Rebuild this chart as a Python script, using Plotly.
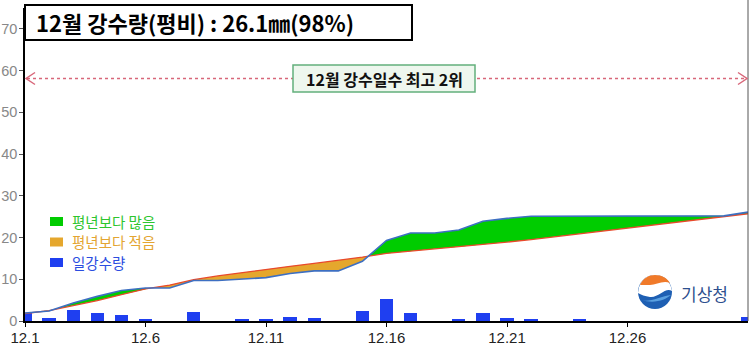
import numpy as np
import plotly.graph_objects as go

# ---------------- data ----------------
days = list(range(1, 32))
tick_days = [1, 6, 11, 16, 21, 26]
tick_labels = ["12.1", "12.6", "12.11", "12.16", "12.21", "12.26"]

# daily precipitation (mm)
daily_precip = [1.9, 0.8, 2.6, 1.8, 1.4, 0.5, 0.0, 2.2, 0.0, 0.6,
                0.3, 1.0, 0.7, 0.0, 2.3, 5.2, 2.0, 0.0, 0.6, 2.0,
                0.8, 0.6, 0.0, 0.4, 0.0, 0.0, 0.0, 0.0, 0.0, 0.0, 1.0]

# accumulated precipitation this year (mm)
observed_cum = [1.9, 2.4, 4.3, 5.9, 7.3, 7.9, 7.9, 9.7, 9.7, 10.1,
                10.4, 11.4, 12.0, 12.0, 14.3, 19.3, 21.1, 21.1, 21.8, 23.9,
                24.6, 25.1, 25.1, 25.2, 25.2, 25.2, 25.2, 25.2, 25.2, 25.2, 26.1]

# accumulated normal precipitation (mm)
normal_cum = [1.8, 2.5, 3.7, 4.9, 6.3, 7.7, 8.6, 9.9, 10.8, 11.6,
              12.4, 13.1, 13.8, 14.5, 15.3, 16.2, 16.8, 17.3, 17.8, 18.3,
              18.9, 19.5, 20.2, 20.9, 21.6, 22.3, 23.0, 23.7, 24.4, 25.1, 25.7]

title_text = "12월 강수량(평비) : 26.1㎜(98%)"
rank_text = "12월 강수일수 최고 2위"
legend_labels = ["평년보다 많음", "평년보다 적음", "일강수량"]
legend_square_colors = ["#00cc00", "#e5a72d", "#1f3ff0"]
legend_text_colors = ["#2ec52e", "#e3a531", "#2b4de0"]

# ---------------- fill geometry (insert crossing points) ----------------
d = np.array(days, float)
o = np.array(observed_cum, float)
n = np.array(normal_cum, float)
xs, os_, ns = [d[0]], [o[0]], [n[0]]
for i in range(len(d) - 1):
    a = o[i] - n[i]
    b = o[i + 1] - n[i + 1]
    if a * b < 0:
        t = a / (a - b)
        xc = d[i] + t * (d[i + 1] - d[i])
        yc = n[i] + t * (n[i + 1] - n[i])
        xs.append(xc); os_.append(yc); ns.append(yc)
    xs.append(d[i + 1]); os_.append(o[i + 1]); ns.append(n[i + 1])
xs = np.array(xs); os_ = np.array(os_); ns = np.array(ns)
upper = np.maximum(os_, ns)
lower = np.minimum(os_, ns)

GREEN = "#00cc00"
ORANGE = "#e5a72d"
BLUE_BAR = "#1f3ff0"

fig = go.Figure()
fig.add_trace(go.Bar(x=days, y=daily_precip, width=0.55, marker=dict(color=BLUE_BAR, line=dict(width=0)),
                     showlegend=False, hoverinfo="skip"))
fig.add_trace(go.Scatter(x=xs, y=ns, mode="lines", line=dict(width=0), showlegend=False, hoverinfo="skip"))
fig.add_trace(go.Scatter(x=xs, y=upper, mode="lines", line=dict(width=0), fill="tonexty",
                         fillcolor=GREEN, showlegend=False, hoverinfo="skip"))
fig.add_trace(go.Scatter(x=xs, y=ns, mode="lines", line=dict(width=0), showlegend=False, hoverinfo="skip"))
fig.add_trace(go.Scatter(x=xs, y=lower, mode="lines", line=dict(width=0), fill="tonexty",
                         fillcolor=ORANGE, showlegend=False, hoverinfo="skip"))
fig.add_trace(go.Scatter(x=days, y=normal_cum, mode="lines", line=dict(color="#e8492b", width=1.3),
                         showlegend=False))
fig.add_trace(go.Scatter(x=days, y=observed_cum, mode="lines", line=dict(color="#3d6fc2", width=1.6),
                         showlegend=False))

# ---------------- layout helpers (pixel -> paper) ----------------
W, H = 751, 346
ML, MR, MT, MB = 25, 3, 8, 25
PW, PH = W - ML - MR, H - MT - MB


def px(x):
    return (x - ML) / PW


def py(y):
    return (H - MB - y) / PH


shapes = []
annotations = []

# right frame line
shapes.append(dict(type="line", xref="paper", yref="paper", x0=1, x1=1, y0=0, y1=py(0),
                   line=dict(color="#555555", width=1)))

# title box
shapes.append(dict(type="rect", xref="paper", yref="paper", x0=px(25), x1=px(412), y0=py(40), y1=py(5),
                   line=dict(color="black", width=2), fillcolor="white", layer="above"))
annotations.append(dict(xref="paper", yref="paper", x=px(34), y=py(22.5), xanchor="left", yanchor="middle",
                        text="<b>" + title_text + "</b>", showarrow=False,
                        font=dict(family="Noto Sans CJK KR", size=22, color="black")))

# dotted double arrow
ay = 78.5
shapes.append(dict(type="line", xref="paper", yref="paper", x0=px(27), x1=px(746), y0=py(ay), y1=py(ay),
                   line=dict(color="#d8677a", width=1.5, dash="dot")))
shapes.append(dict(type="path", xref="paper", yref="paper",
                   path=f"M {px(35)},{py(ay-6)} L {px(26)},{py(ay)} L {px(35)},{py(ay+6)}",
                   line=dict(color="#d8677a", width=1.5)))
shapes.append(dict(type="path", xref="paper", yref="paper",
                   path=f"M {px(738)},{py(ay-6)} L {px(747)},{py(ay)} L {px(738)},{py(ay+6)}",
                   line=dict(color="#d8677a", width=1.5)))
shapes.append(dict(type="rect", xref="paper", yref="paper", x0=px(293), x1=px(475), y0=py(92), y1=py(65),
                   line=dict(color="#63b07c", width=1.5), fillcolor="#eef7ee", layer="above"))
annotations.append(dict(xref="paper", yref="paper", x=px(384), y=py(78.5), xanchor="center", yanchor="middle",
                        text="<b>" + rank_text + "</b>", showarrow=False,
                        font=dict(family="Noto Sans CJK KR", size=16, color="#111111")))

# custom legend: colored squares + colored texts
line_gap = 20.5
for k, (label, sq_color, txt_color) in enumerate(zip(legend_labels, legend_square_colors, legend_text_colors)):
    yc = 221.5 + line_gap * k
    shapes.append(dict(type="rect", xref="paper", yref="paper", x0=px(50), x1=px(63),
                       y0=py(yc + 4.5), y1=py(yc - 4.5), line=dict(width=0), fillcolor=sq_color))
    annotations.append(dict(xref="paper", yref="paper", x=px(70), y=py(yc), xanchor="left",
                            yanchor="middle", text=label, showarrow=False,
                            font=dict(family="Noto Sans CJK KR", size=14.5, color=txt_color)))

# KMA logo (approximation)
cx, cy, r = 655, 292, 17
shapes.append(dict(type="circle", xref="paper", yref="paper", x0=px(cx - r), x1=px(cx + r),
                   y0=py(cy + r), y1=py(cy - r), line=dict(width=0), fillcolor="#1e5fb3"))
shapes.append(dict(type="path", xref="paper", yref="paper",
                   path=(f"M {px(cx-17)},{py(cy+1)} C {px(cx-16)},{py(cy-12)} {px(cx-8)},{py(cy-17)} {px(cx)},{py(cy-17)} "
                         f"C {px(cx+9)},{py(cy-17)} {px(cx+16)},{py(cy-10)} {px(cx+17)},{py(cy-1)} "
                         f"C {px(cx+10)},{py(cy-5)} {px(cx+4)},{py(cy+6)} {px(cx-5)},{py(cy+5)} "
                         f"C {px(cx-10)},{py(cy+4)} {px(cx-14)},{py(cy+3)} {px(cx-17)},{py(cy+1)} Z"),
                   line=dict(width=0), fillcolor="#ffffff"))
shapes.append(dict(type="path", xref="paper", yref="paper",
                   path=(f"M {px(cx-15)},{py(cy-7)} C {px(cx-12)},{py(cy-14)} {px(cx-6)},{py(cy-17)} {px(cx)},{py(cy-17)} "
                         f"C {px(cx+7)},{py(cy-17)} {px(cx+12)},{py(cy-14)} {px(cx+15)},{py(cy-9)} "
                         f"C {px(cx+8)},{py(cy-12)} {px(cx+1)},{py(cy-7)} {px(cx-5)},{py(cy-7)} "
                         f"C {px(cx-9)},{py(cy-7)} {px(cx-12)},{py(cy-7)} {px(cx-15)},{py(cy-7)} Z"),
                   line=dict(width=0), fillcolor="#f07a2a"))
shapes.append(dict(type="path", xref="paper", yref="paper",
                   path=(f"M {px(cx-14)},{py(cy+8)} C {px(cx-6)},{py(cy+11)} {px(cx+6)},{py(cy+4)} {px(cx+16)},{py(cy+3)} "
                         f"C {px(cx+10)},{py(cy+8)} {px(cx)},{py(cy+12)} {px(cx-14)},{py(cy+8)} Z"),
                   line=dict(width=0), fillcolor="#5aa0e0"))
annotations.append(dict(xref="paper", yref="paper", x=px(679), y=py(293), xanchor="left", yanchor="middle",
                        text="기상청", showarrow=False,
                        font=dict(family="Noto Sans CJK KR", size=17, color="#2d4f8e")))

fig.update_layout(
    width=W, height=H,
    margin=dict(l=ML, r=MR, t=MT, b=MB, pad=0),
    paper_bgcolor="white", plot_bgcolor="white",
    showlegend=False,
    bargap=0,
    shapes=shapes, annotations=annotations,
    xaxis=dict(range=[1, 31], tickmode="array", tickvals=tick_days, ticktext=tick_labels,
               showgrid=False, zeroline=False, showline=True, linecolor="black", linewidth=1.5,
               ticks="outside", ticklen=4, tickcolor="black", automargin=False,
               ticklabelstandoff=-2,
               tickfont=dict(family="Liberation Sans", size=15, color="#222222")),
    yaxis=dict(range=[0, 75], tickmode="array", tickvals=[0, 10, 20, 30, 40, 50, 60, 70],
               showgrid=False, zeroline=False, showline=True, linecolor="black", linewidth=1.5,
               ticks="outside", ticklen=4, tickcolor="#555555", automargin=False,
               ticklabelstandoff=-1,
               tickfont=dict(family="Liberation Sans", size=14.5, color="#888888")),
)

fig.write_html("out.html", config={"displayModeBar": False},
               post_script="document.body.style.margin='0px';")
